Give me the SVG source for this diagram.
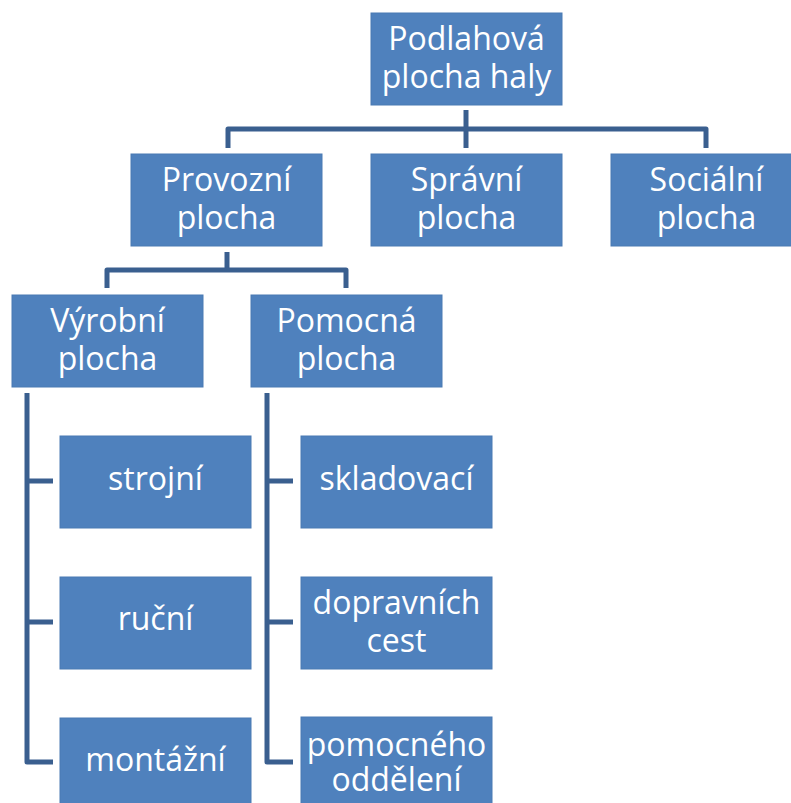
<svg xmlns="http://www.w3.org/2000/svg" width="791" height="803" viewBox="0 0 791 803">
<style>
.box{fill:#4F81BD;stroke:#4a7ab3;stroke-width:1}
.t{font-family:"Open Sans",Lato,"Liberation Sans",sans-serif;font-size:32px;fill:#ffffff;text-anchor:middle}
.c{fill:none;stroke:#3A5F8F;stroke-width:5;stroke-linejoin:round;stroke-linecap:butt}
</style>
<rect width="791" height="803" fill="#ffffff"/>
<g id="connectors">
<path class="c" d="M466 110 V148"/>
<path class="c" d="M228 148 V129 H706 V148"/>
<path class="c" d="M227 252 V270"/>
<path class="c" d="M107 288 V270 H346 V288"/>
<path class="c" d="M27 393 V762 H53"/>
<path class="c" d="M27 481 H53 M27 622 H53"/>
<path class="c" d="M267 393 V762 H293"/>
<path class="c" d="M267 481 H293 M267 622 H293"/>
</g>
<g id="podlahova"><rect class="box" x="371" y="13" width="191" height="92"/><text class="t" x="466.5" y="50">Podlahová</text><text class="t" x="466.5" y="88">plocha haly</text></g>
<g id="provozni"><rect class="box" x="131" y="154" width="191" height="92"/><text class="t" x="226.5" y="191">Provozní</text><text class="t" x="226.5" y="229">plocha</text></g>
<g id="spravni"><rect class="box" x="371" y="154" width="191" height="92"/><text class="t" x="466.5" y="191">Správní</text><text class="t" x="466.5" y="229">plocha</text></g>
<g id="socialni"><rect class="box" x="611" y="154" width="191" height="92"/><text class="t" x="706.5" y="191">Sociální</text><text class="t" x="706.5" y="229">plocha</text></g>
<g id="vyrobni"><rect class="box" x="12" y="295" width="191" height="92"/><text class="t" x="107.5" y="332">Výrobní</text><text class="t" x="107.5" y="370">plocha</text></g>
<g id="pomocna"><rect class="box" x="251" y="295" width="191" height="92"/><text class="t" x="346.5" y="332">Pomocná</text><text class="t" x="346.5" y="370">plocha</text></g>
<g id="strojni"><rect class="box" x="60" y="436" width="191" height="92"/><text class="t" x="155.5" y="490">strojní</text></g>
<g id="rucni"><rect class="box" x="60" y="577" width="191" height="92"/><text class="t" x="155.5" y="630">ruční</text></g>
<g id="montazni"><rect class="box" x="60" y="718" width="191" height="92"/><text class="t" x="155.5" y="771">montážní</text></g>
<g id="skladovaci"><rect class="box" x="301" y="436" width="191" height="92"/><text class="t" x="396.5" y="490">skladovací</text></g>
<g id="dopravnich"><rect class="box" x="301" y="577" width="191" height="92"/><text class="t" x="396.5" y="614">dopravních</text><text class="t" x="396.5" y="652">cest</text></g>
<g id="pomocneho"><rect class="box" x="301" y="717" width="191" height="92"/><text class="t" x="396.5" y="756">pomocného</text><text class="t" x="396.5" y="791">oddělení</text></g>
</svg>
